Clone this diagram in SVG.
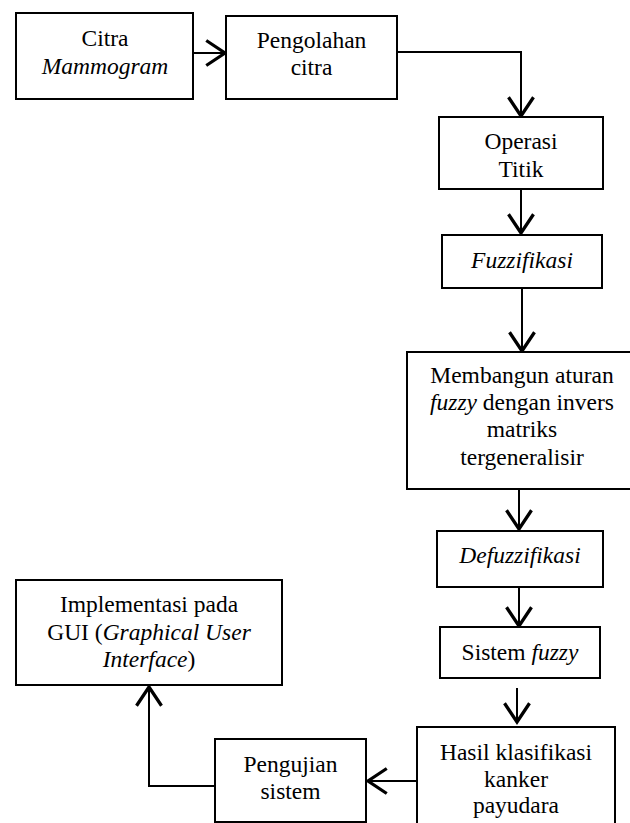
<svg xmlns="http://www.w3.org/2000/svg" width="630" height="823" viewBox="0 0 630 823">
<style>
.box{fill:#fff;stroke:#000;stroke-width:2}
.t{font-size:23.5px;fill:#000;text-anchor:middle}
.i{font-style:italic}
.c{fill:none;stroke:#000;stroke-width:2}
</style>
<defs>
<marker id="ah" markerUnits="userSpaceOnUse" markerWidth="30" markerHeight="30" viewBox="-18 -12 20 24" refX="0" refY="0" orient="auto">
<path d="M-15,-10 L0,0 L-15,10" fill="none" stroke="#000" stroke-width="2.6"/>
</marker>
</defs>
<rect width="630" height="823" fill="#fff"/>
<g id="connectors">
<path class="c" d="M193,53 H225" marker-end="url(#ah)"/>
<path class="c" d="M397,52 H521 V116" marker-end="url(#ah)"/>
<path class="c" d="M521,189 V233" marker-end="url(#ah)"/>
<path class="c" d="M522,288 V351" marker-end="url(#ah)"/>
<path class="c" d="M519,489 V529" marker-end="url(#ah)"/>
<path class="c" d="M519,587 V626" marker-end="url(#ah)"/>
<path class="c" d="M517,688 V722" marker-end="url(#ah)"/>
<path class="c" d="M417,781 H368" marker-end="url(#ah)"/>
<path class="c" d="M215,786 H149 V687" marker-end="url(#ah)"/>
</g>
<g font-family="Liberation Serif, serif">
<g id="citra">
<rect class="box" x="16" y="13" width="177" height="86"/>
<text class="t" x="105" y="46">Citra</text>
<text class="t i" x="105" y="74">Mammogram</text>
</g>
<g id="pengolahan">
<rect class="box" x="226" y="16" width="171" height="83"/>
<text class="t" x="311.5" y="48">Pengolahan</text>
<text class="t" x="311.5" y="75">citra</text>
</g>
<g id="operasi">
<rect class="box" x="439" y="117" width="164" height="72"/>
<text class="t" x="521" y="149">Operasi</text>
<text class="t" x="521" y="177">Titik</text>
</g>
<g id="fuzzifikasi">
<rect class="box" x="442" y="235" width="160" height="53"/>
<text class="t i" x="522" y="268">Fuzzifikasi</text>
</g>
<g id="membangun">
<rect class="box" x="407" y="352" width="232" height="137"/>
<text class="t" x="522" y="383">Membangun aturan</text>
<text class="t" x="522" y="410"><tspan class="i">fuzzy</tspan> dengan invers</text>
<text class="t" x="522" y="437">matriks</text>
<text class="t" x="522" y="465">tergeneralisir</text>
</g>
<g id="defuzzifikasi">
<rect class="box" x="437" y="531" width="166" height="56"/>
<text class="t i" x="520" y="563">Defuzzifikasi</text>
</g>
<g id="sistem">
<rect class="box" x="440" y="627" width="160" height="51"/>
<text class="t" x="520" y="660">Sistem <tspan class="i">fuzzy</tspan></text>
</g>
<g id="hasil">
<rect class="box" x="417" y="727" width="198" height="110"/>
<text class="t" x="516" y="760">Hasil klasifikasi</text>
<text class="t" x="516" y="787">kanker</text>
<text class="t" x="516" y="813">payudara</text>
</g>
<g id="pengujian">
<rect class="box" x="215" y="739" width="151" height="83"/>
<text class="t" x="290.5" y="772">Pengujian</text>
<text class="t" x="290.5" y="799">sistem</text>
</g>
<g id="gui">
<rect class="box" x="16" y="580" width="266" height="105"/>
<text class="t" x="149" y="612">Implementasi pada</text>
<text class="t" x="149" y="640">GUI (<tspan class="i">Graphical User</tspan></text>
<text class="t" x="149" y="667"><tspan class="i">Interface</tspan>)</text>
</g>
</g>
</svg>
